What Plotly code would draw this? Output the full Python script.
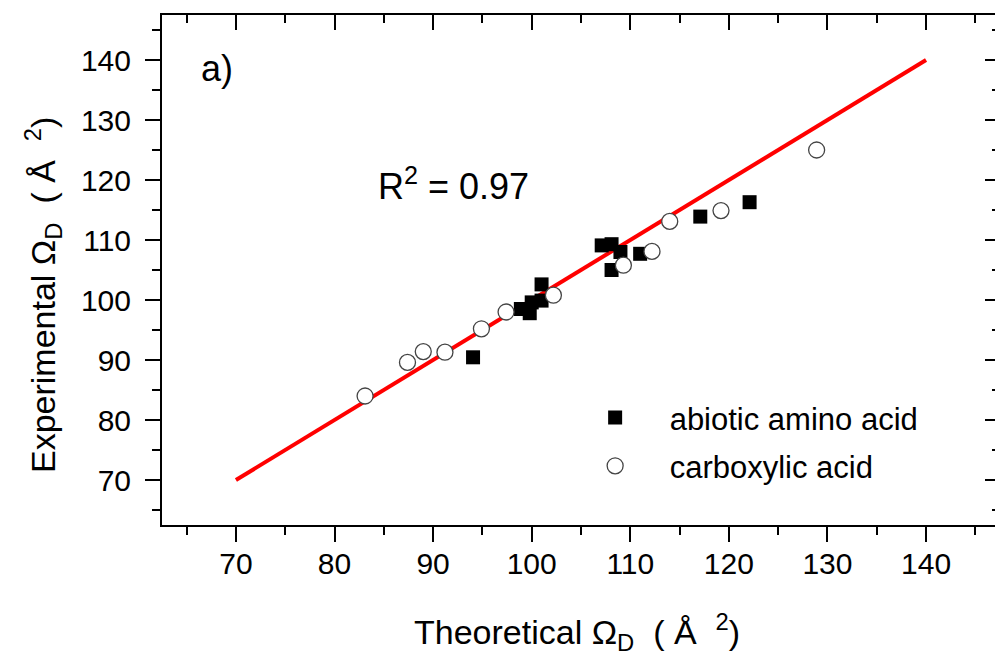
import plotly.graph_objects as go

# Data
abiotic_x = [94.05, 98.9, 99.8, 100.0, 101.0, 101.0, 107.1, 108.1, 109.0, 108.1, 111.0, 117.1, 122.1]
abiotic_y = [90.45, 98.5, 97.8, 99.6, 102.6, 99.9, 109.1, 109.3, 108.0, 105.0, 107.7, 113.9, 116.3]

carbox_x = [83.1, 87.4, 89.0, 91.2, 94.9, 97.4, 102.2, 109.3, 112.2, 114.0, 119.2, 128.9]
carbox_y = [84.0, 89.6, 91.4, 91.3, 95.2, 98.0, 100.8, 105.8, 108.1, 113.1, 114.9, 125.0]

fit_x = [70, 140]
fit_y = [70, 140]

x_range = [62.5, 147.5]
y_range = [62.5, 147.5]
tick_vals = [70, 80, 90, 100, 110, 120, 130, 140]

FONT = "Liberation Sans, Arial, sans-serif"

fig = go.Figure()
fig.add_trace(go.Scatter(x=fit_x, y=fit_y, mode="lines",
                         line=dict(color="#ff0000", width=4), showlegend=False))
fig.add_trace(go.Scatter(x=abiotic_x, y=abiotic_y, mode="markers", name="abiotic amino acid",
                         legendgroup="a",
                         marker=dict(symbol="square", size=14, color="black", line=dict(width=0))))
fig.add_trace(go.Scatter(x=carbox_x, y=carbox_y, mode="markers", name="carboxylic acid",
                         legendgroup="b",
                         marker=dict(symbol="circle", size=16, color="white",
                                     line=dict(color="#444444", width=1.3))))
# invisible trace for mirrored (inside) ticks on top/right
fig.add_trace(go.Scatter(x=[None], y=[None], xaxis="x2", yaxis="y2", showlegend=False, hoverinfo="skip"))

axis_common = dict(showgrid=False, zeroline=False, showline=True, linecolor="black", linewidth=2,
                   tickcolor="black", tickwidth=2, ticklen=15, automargin=False)

# page body has an 8px default margin: compensate so the plot lands where the reference has it
W, H = 995, 653

fig.update_layout(
    width=W, height=H,
    margin=dict(l=154, r=3, t=7, b=136),
    paper_bgcolor="white", plot_bgcolor="white",
    font=dict(family=FONT, color="black"),
    xaxis=dict(range=x_range, tickvals=tick_vals, ticks="outside",
               tickfont=dict(size=30), ticklabelstandoff=-4,
               minor=dict(ticks="outside", ticklen=8, tickwidth=2, tickcolor="black", dtick=5, tick0=0),
               **axis_common),
    yaxis=dict(range=y_range, tickvals=tick_vals, ticks="outside",
               tickfont=dict(size=30), ticklabelstandoff=8,
               minor=dict(ticks="outside", ticklen=8, tickwidth=2, tickcolor="black", dtick=5, tick0=0),
               **axis_common),
    xaxis2=dict(range=x_range, overlaying="x", side="top", tickvals=tick_vals, ticks="inside",
                showticklabels=False,
                minor=dict(ticks="inside", ticklen=8, tickwidth=2, tickcolor="black", dtick=5, tick0=0),
                **axis_common),
    yaxis2=dict(range=y_range, overlaying="y", side="right", tickvals=tick_vals, ticks="inside",
                showticklabels=False,
                minor=dict(ticks="inside", ticklen=8, tickwidth=2, tickcolor="black", dtick=5, tick0=0),
                **axis_common),
    legend=dict(x=0.4757, y=0.163, xanchor="left", yanchor="middle", bgcolor="rgba(0,0,0,0)",
                font=dict(size=31), itemwidth=99, traceorder="grouped", tracegroupgap=5),
    annotations=[
        dict(x=0.066, y=0.895, xref="paper", yref="paper", text="a)", showarrow=False,
             font=dict(size=36), xanchor="center", yanchor="middle"),
        dict(x=92.1, y=119.4, xref="x", yref="y", text="R<sup>2</sup> = 0.97", showarrow=False,
             font=dict(size=36), xanchor="center", yanchor="middle"),
        # axis titles placed in page pixels (converted to paper fractions)
        dict(x=(577 - 8 - 154) / (W - 154 - 3), y=-(632 - 8 - (H - 136)) / (H - 7 - 136),
             xref="paper", yref="paper",
             text="Theoretical Ω<sub>D</sub>  ( Å  <sup>2</sup>)", showarrow=False,
             font=dict(size=34), xanchor="center", yanchor="middle"),
        dict(x=-(154 - (43 - 8)) / (W - 154 - 3), y=1 - (295 - 8 - 7) / (H - 7 - 136),
             xref="paper", yref="paper", textangle=-90,
             text="Experimental Ω<sub>D</sub>  ( Å  <sup>2</sup>)", showarrow=False,
             font=dict(size=34), xanchor="center", yanchor="middle"),
    ],
)

fig.write_html("out.html")
